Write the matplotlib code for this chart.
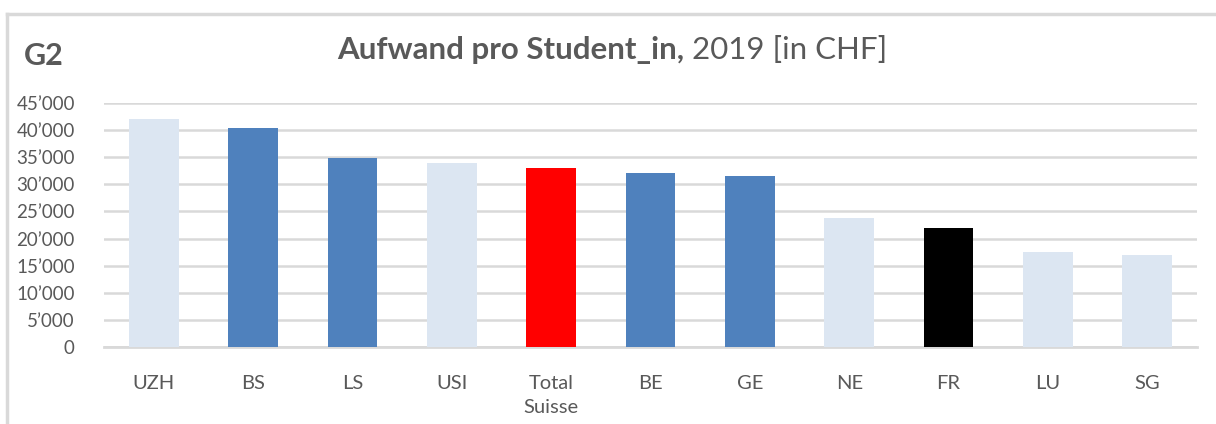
import matplotlib.pyplot as plt
from matplotlib.lines import Line2D
from matplotlib.ticker import FuncFormatter

plt.rcParams["font.family"] = ["Lato", "DejaVu Sans"]

categories = ["UZH", "BS", "LS", "USI", "Total\nSuisse", "BE", "GE", "NE", "FR", "LU", "SG"]
values = [42000, 40300, 34800, 33900, 33000, 32100, 31500, 23850, 21900, 17500, 16900]
bar_colors = ["#dce6f2", "#4f81bd", "#4f81bd", "#dce6f2", "#ff0000", "#4f81bd",
              "#4f81bd", "#dce6f2", "#000000", "#dce6f2", "#dce6f2"]
y_ticks = list(range(0, 45001, 5000))

text_col = "#595959"
grid_col = "#d9d9d9"

fig = plt.figure(figsize=(12.16, 4.24), dpi=100)
ax = fig.add_axes([104 / 1216, 1 - 347 / 424, (1197 - 104) / 1216, (347 - 103) / 424])

x = range(len(categories))
ax.bar(x, values, width=0.5, color=bar_colors, zorder=3)

ax.set_xlim(-0.5, len(categories) - 0.5)
ax.set_ylim(0, 45000)
ax.set_yticks(y_ticks)
ax.yaxis.set_major_formatter(FuncFormatter(lambda v, p: f"{int(v):,}".replace(",", "\u2019")))
ax.set_xticks(list(x))
ax.set_xticklabels(categories, linespacing=1.55)

ax.grid(axis="y", color=grid_col, linewidth=1.8, zorder=0)
for s in ["top", "right", "left"]:
    ax.spines[s].set_visible(False)
ax.spines["bottom"].set_color(grid_col)
ax.spines["bottom"].set_linewidth(2)
ax.tick_params(axis="both", length=0, labelcolor=text_col)
ax.tick_params(axis="x", pad=20, labelsize=14.5)
ax.tick_params(axis="y", pad=21, labelsize=13.5)
for lbl in ax.get_xticklabels():
    lbl.set_verticalalignment("top")

# title: bold part + regular part, centred as a whole
ty = 1 - 50 / 424
t1 = fig.text(0.5, ty, "Aufwand pro Student_in,", ha="left", va="center",
              fontsize=22.5, fontweight="bold", color=text_col)
t2 = fig.text(0.5, ty, " 2019 [in CHF]", ha="left", va="center",
              fontsize=22.5, color=text_col)
renderer = fig.canvas.get_renderer()
w1 = t1.get_window_extent(renderer).width / fig.bbox.width
w2 = t2.get_window_extent(renderer).width / fig.bbox.width
left = 612 / 1216 - (w1 + w2) / 2
t1.set_x(left)
t2.set_x(left + w1)

fig.text(24 / 1216, 1 - 56 / 424, "G2", ha="left", va="center",
         fontsize=22, fontweight="bold", color=text_col)

# outer frame (left and top edges)
x0, y0 = 7 / 1216, 1 - 14 / 424
fig.add_artist(Line2D([x0, x0], [0, y0], transform=fig.transFigure, color=grid_col, linewidth=2.5))
fig.add_artist(Line2D([x0, 1], [y0, y0], transform=fig.transFigure, color=grid_col, linewidth=2.5))

fig.savefig("out.png", dpi=100)
